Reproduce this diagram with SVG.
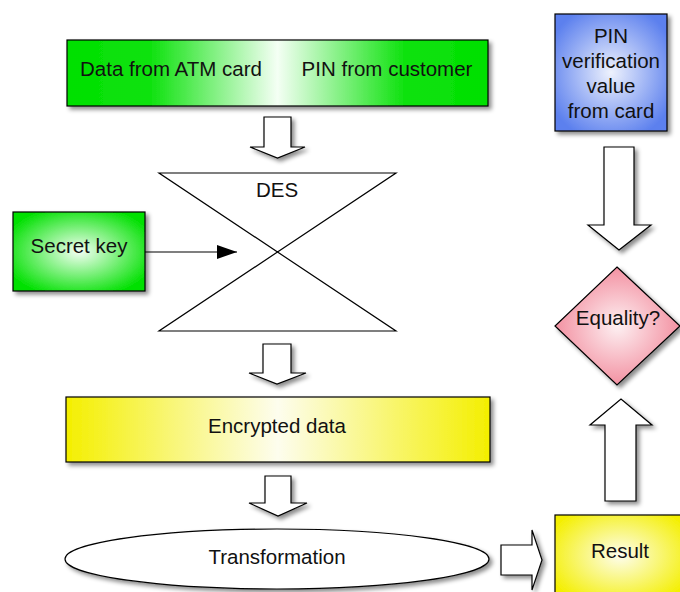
<svg xmlns="http://www.w3.org/2000/svg" width="680" height="592" viewBox="0 0 680 592">
<defs>
<filter id="sh" x="-10%" y="-10%" width="130%" height="130%">
<feDropShadow dx="3" dy="3" stdDeviation="2" flood-color="#000" flood-opacity="0.45"/>
</filter>
<linearGradient id="gH" x1="0" y1="0" x2="1" y2="0">
<stop offset="0" stop-color="#00e000"/><stop offset="0.2" stop-color="#10e210"/><stop offset="0.5" stop-color="#f4fff4"/><stop offset="0.8" stop-color="#10e210"/><stop offset="1" stop-color="#00e000"/>
</linearGradient>
<radialGradient id="gR" cx="0.5" cy="0.5" r="0.6">
<stop offset="0" stop-color="#f4fff4"/><stop offset="1" stop-color="#00e000"/>
</radialGradient>
<linearGradient id="yH" x1="0" y1="0" x2="1" y2="0">
<stop offset="0" stop-color="#f4ef00"/><stop offset="0.5" stop-color="#fdfdee"/><stop offset="1" stop-color="#f4ef00"/>
</linearGradient>
<radialGradient id="yR" cx="0.5" cy="0.45" r="0.6">
<stop offset="0" stop-color="#fdfdee"/><stop offset="1" stop-color="#f4ef00"/>
</radialGradient>
<radialGradient id="bR" cx="0.5" cy="0.5" r="0.6">
<stop offset="0" stop-color="#eef2fd"/><stop offset="1" stop-color="#5c80ee"/>
</radialGradient>
<radialGradient id="pR" cx="0.5" cy="0.5" r="0.55">
<stop offset="0" stop-color="#fdf0f2"/><stop offset="1" stop-color="#f2889a"/>
</radialGradient>
<marker id="ah" markerWidth="20" markerHeight="14" refX="20" refY="7" orient="auto" markerUnits="userSpaceOnUse">
<path d="M0,0 L20,7 L0,14 Z" fill="#000"/>
</marker>
<style>
.t{font-family:"Liberation Sans",Arial,sans-serif;font-size:20.5px;fill:#111}
.m{text-anchor:middle}
.b{stroke:#000;stroke-width:1.2}
.ar{fill:#fff;stroke:#000;stroke-width:1.2;filter:url(#sh)}
</style>
</defs>

<g id="input">
<rect x="67" y="40" width="421" height="66" fill="url(#gH)" class="b" filter="url(#sh)"/>
<text class="t m" x="171" y="76">Data from ATM card</text>
<text class="t m" x="387" y="76">PIN from customer</text>
</g>

<g id="des">
<path d="M159,173 H396 L159,331 H396 Z" fill="none" stroke="#000" stroke-width="1.2"/>
<text class="t m" x="277" y="197">DES</text>
</g>

<g id="secret-key">
<rect x="13" y="212" width="132" height="79" fill="url(#gR)" class="b" filter="url(#sh)"/>
<text class="t m" x="79" y="253">Secret key</text>
</g>

<g id="encrypted">
<rect x="66" y="397" width="424" height="65" fill="url(#yH)" class="b" filter="url(#sh)"/>
<text class="t m" x="277" y="433">Encrypted data</text>
</g>

<g id="transformation">
<ellipse cx="277" cy="559" rx="212" ry="30" fill="#fff" class="b" filter="url(#sh)"/>
<text class="t m" x="277" y="564">Transformation</text>
</g>

<g id="result">
<rect x="555" y="515" width="130" height="90" fill="url(#yR)" class="b" filter="url(#sh)"/>
<text class="t m" x="620" y="558">Result</text>
</g>

<g id="pvv">
<rect x="555" y="14" width="112" height="117" fill="url(#bR)" class="b" filter="url(#sh)"/>
<text class="t m" x="611" y="43">PIN</text>
<text class="t m" x="611" y="68">verification</text>
<text class="t m" x="611" y="93">value</text>
<text class="t m" x="611" y="118">from card</text>
</g>

<g id="equality">
<path d="M617,267 L680,326 L617,385 L555,326 Z" fill="url(#pR)" class="b" filter="url(#sh)"/>
<text class="t m" x="618" y="325">Equality?</text>
</g>

<g id="connectors">
<line x1="145" y1="252" x2="237" y2="252" stroke="#000" stroke-width="1.2" marker-end="url(#ah)"/>
<path class="ar" d="M264,117 H291 V147 H305 L277.5,158 L250,147 H264 Z"/>
<path class="ar" d="M263,344 H291 V373 H306 L277,384 L249,373 H263 Z"/>
<path class="ar" d="M265,476 H291 V503 H307 L278,516 L249,503 H265 Z"/>
<path class="ar" d="M501,545 H532 V530 L542,560 L532,590 V575 H501 Z"/>
<path class="ar" d="M604,147 H634 V225 H651 L619,250 L588,225 H604 Z"/>
<path class="ar" d="M605,501 V425 H590 L621,399 L652,425 H636 V501 Z"/>
</g>
</svg>
